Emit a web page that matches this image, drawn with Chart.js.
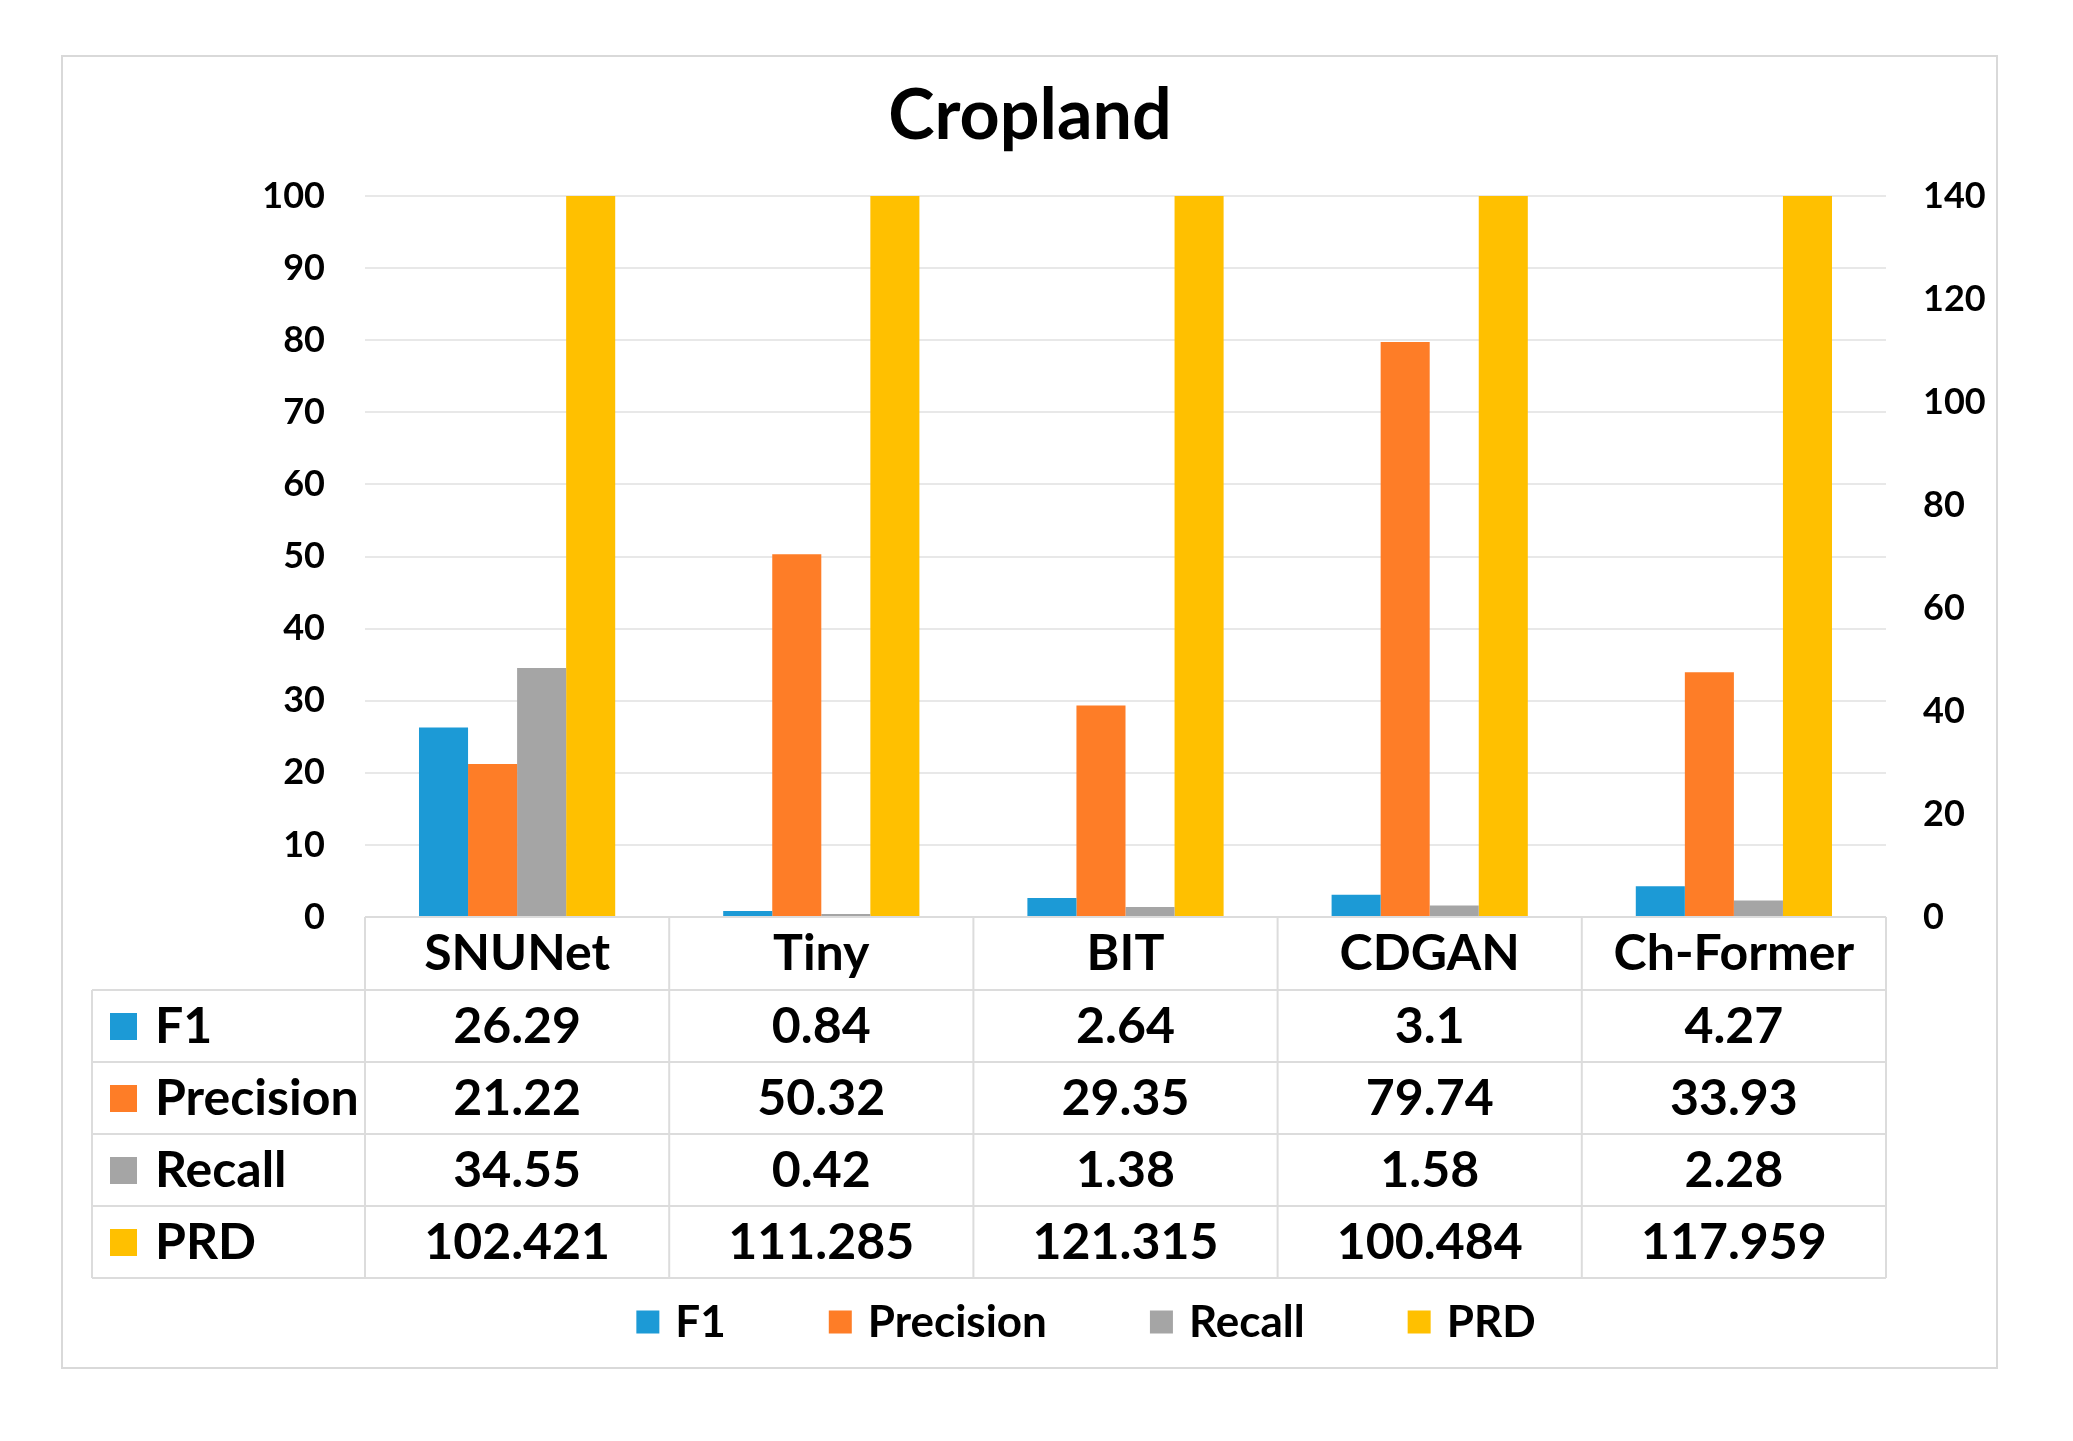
<!DOCTYPE html>
<html>
<head>
<meta charset="utf-8">
<script src="https://cdn.jsdelivr.net/npm/chart.js@4.4.1/dist/chart.umd.min.js"></script>
<style>
  html, body { margin: 0; padding: 0; background: #ffffff; }
  #wrap { width: 2073px; height: 1441px; position: relative; }
</style>
</head>
<body>
<div id="wrap"><canvas id="c"></canvas></div>
<script>
// ---- data ----
const categories = ['SNUNet', 'Tiny', 'BIT', 'CDGAN', 'Ch-Former'];
const seriesNames = ['F1', 'Precision', 'Recall', 'PRD'];
const f1Values = [26.29, 0.84, 2.64, 3.1, 4.27];
const precisionValues = [21.22, 50.32, 29.35, 79.74, 33.93];
const recallValues = [34.55, 0.42, 1.38, 1.58, 2.28];
const prdValues = [102.421, 111.285, 121.315, 100.484, 117.959];
const leftAxisMax = 100;
const leftAxisStep = 10;
const rightAxisMax = 140;
const rightAxisStep = 20;

// ---- styles ----
const colors = ['#1c9ad6', '#fe7d27', '#a5a5a5', '#ffc000'];
const FONT = 'Lato, "Open Sans", sans-serif';
const lineColor = '#dcdcdc';

const bgPlugin = {
  id: 'bgBorder',
  beforeDraw(chart) {
    const ctx = chart.ctx;
    ctx.save();
    ctx.fillStyle = '#ffffff';
    ctx.fillRect(0, 0, chart.width, chart.height);
    ctx.strokeStyle = '#d9d9d9';
    ctx.lineWidth = 2;
    ctx.strokeRect(62, 56, 1935, 1312);
    ctx.restore();
  }
};

const tablePlugin = {
  id: 'dataTable',
  afterDraw(chart) {
    const ctx = chart.ctx;
    const area = chart.chartArea;
    const x = chart.scales.x;
    const colW = x.getPixelForValue(1) - x.getPixelForValue(0);
    const top = area.bottom;
    const headerH = 73;
    const rowH = 72;
    const tableLeft = 92;
    const right = area.right;
    const nRows = chart.data.datasets.length;
    const bottom = top + headerH + nRows * rowH;
    ctx.save();
    ctx.strokeStyle = lineColor;
    ctx.lineWidth = 2;
    ctx.beginPath();
    ctx.moveTo(area.left, top); ctx.lineTo(right, top);
    for (let r = 0; r <= nRows; r++) {
      const yy = top + headerH + r * rowH;
      ctx.moveTo(tableLeft, yy); ctx.lineTo(right, yy);
    }
    for (let i = 0; i <= categories.length; i++) {
      const xx = i < categories.length ? x.getPixelForValue(i) - colW / 2 : x.getPixelForValue(i - 1) + colW / 2;
      ctx.moveTo(xx, top); ctx.lineTo(xx, bottom);
    }
    ctx.moveTo(tableLeft, top + headerH); ctx.lineTo(tableLeft, bottom);
    ctx.stroke();

    chart.data.datasets.forEach((ds, r) => {
      const cy = top + headerH + r * rowH + rowH / 2;
      ctx.fillStyle = ds.backgroundColor;
      ctx.fillRect(110, cy - 13, 27, 27);
      ctx.fillStyle = '#000000';
      ctx.font = 'bold 50px ' + FONT;
      ctx.textBaseline = 'middle';
      ctx.textAlign = 'left';
      ctx.fillText(ds.label, 155, cy + 1);
      ctx.textAlign = 'center';
      ds.data.forEach((v, i) => {
        ctx.fillText(String(v), x.getPixelForValue(i), cy + 1);
      });
    });

    // bottom legend
    const lgY = 1322;
    const box = 23;
    const gapBoxText = 16;
    const gapItems = 103;
    ctx.font = 'bold 44px ' + FONT;
    const items = chart.data.datasets.map(ds => ({ label: ds.label, color: ds.backgroundColor, w: ctx.measureText(ds.label).width }));
    let total = 0;
    items.forEach((it, k) => { total += box + gapBoxText + it.w + (k < items.length - 1 ? gapItems : 0); });
    let lx = 1086 - total / 2;
    ctx.textAlign = 'left';
    ctx.textBaseline = 'middle';
    items.forEach(it => {
      ctx.fillStyle = it.color;
      ctx.fillRect(lx, lgY - box / 2, box, box);
      lx += box + gapBoxText;
      ctx.fillStyle = '#000000';
      ctx.fillText(it.label, lx, lgY + 1);
      lx += it.w + gapItems;
    });
    ctx.restore();
  }
};

const seriesValues = [f1Values, precisionValues, recallValues, prdValues];

new Chart(document.getElementById('c'), {
  type: 'bar',
  data: {
    labels: categories,
    datasets: seriesNames.map((name, k) => ({
      label: name,
      data: seriesValues[k],
      backgroundColor: colors[k],
      borderWidth: 0,
      clip: 0,
      yAxisID: 'y'
    }))
  },
  options: {
    responsive: true,
    maintainAspectRatio: false,
    animation: false,
    events: [],
    categoryPercentage: 0.645,
    barPercentage: 1.0,
    layout: { padding: { left: 62, right: 75, top: 0, bottom: 160 } },
    plugins: {
      legend: { display: false },
      tooltip: { enabled: false },
      title: {
        display: true,
        text: 'Cropland',
        color: '#000000',
        font: { family: FONT, size: 70, weight: 'bold', lineHeight: 1.2 },
        padding: { top: 74, bottom: 38 }
      }
    },
    scales: {
      x: {
        grid: { display: false, drawTicks: false },
        border: { display: false },
        ticks: {
          color: '#000000',
          font: { family: FONT, size: 50, weight: 'bold' },
          padding: 7,
          maxRotation: 0,
          autoSkip: false
        },
        afterFit(scale) { scale.height = 364; }
      },
      y: {
        position: 'left',
        min: 0,
        max: leftAxisMax,
        ticks: {
          stepSize: leftAxisStep,
          color: '#000000',
          font: { family: FONT, size: 36, weight: 'bold' },
          padding: 40
        },
        grid: { color: '#e8e8e8', lineWidth: 2, drawTicks: false },
        border: { display: false },
        afterFit(scale) { scale.width = 303; }
      },
      y1: {
        position: 'right',
        min: 0,
        max: rightAxisMax,
        ticks: {
          stepSize: rightAxisStep,
          color: '#000000',
          font: { family: FONT, size: 36, weight: 'bold' },
          padding: 37
        },
        grid: { display: false, drawTicks: false },
        border: { display: false },
        afterFit(scale) { scale.width = 112; }
      }
    }
  },
  plugins: [bgPlugin, tablePlugin]
});
</script>
</body>
</html>
